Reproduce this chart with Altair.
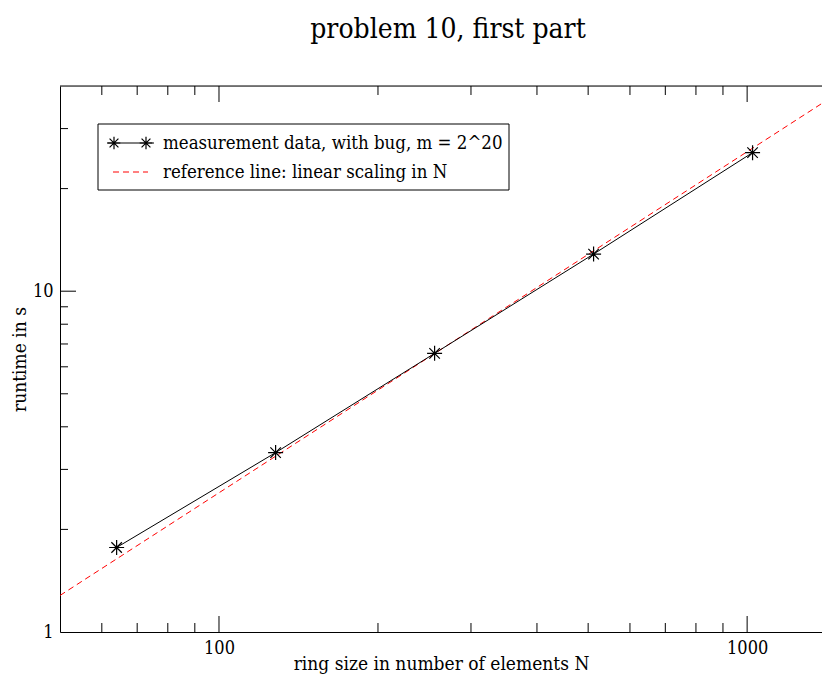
import altair as alt
import pandas as pd

# ---- data ----
ring_n = [64, 128, 256, 512, 1024]
runtime_s = [1.77, 3.36, 6.57, 12.85, 25.5]
ref_n = [50, 1500]
ref_t = [1.28, 38.5]

x_major = [100, 1000]
x_minor = [60, 70, 80, 90, 200, 300, 400, 500, 600, 700, 800, 900]
y_major = [10]
y_minor = [2, 3, 4, 5, 6, 7, 8, 9, 20, 30]

W, H = 762, 546
FONT = "DejaVu Serif Condensed"
XDOM = [50, 1386]
YDOM = [1, 40]

meas = pd.DataFrame({"N": ring_n, "t": runtime_s})
ref = pd.DataFrame({"N": ref_n, "t": ref_t})
one = pd.DataFrame({"a": [0]})

xs = alt.Scale(type="log", domain=XDOM, nice=False)
ys = alt.Scale(type="log", domain=YDOM, nice=False)

STAR = "M0,-1V1M-1,0H1M-0.7,-0.7L0.7,0.7M-0.7,0.7L0.7,-0.7"

xaxis = alt.Axis(values=x_major, format="d", grid=False, ticks=False, domain=True,
                 domainColor="black", labelFont=FONT, labelFontSize=18, labelColor="black",
                 labelPadding=7, title="ring size in number of elements N", titleFont=FONT,
                 titleFontSize=19, titleFontWeight="normal", titleColor="black",
                 titleY=37, titleBaseline="alphabetic")
yaxis = alt.Axis(values=[1, 10], format="d", grid=False, ticks=False, domain=True,
                 domainColor="black", labelFont=FONT, labelFontSize=18, labelColor="black",
                 labelPadding=7, title="runtime in s", titleFont=FONT, titleFontSize=19,
                 titleFontWeight="normal", titleColor="black", titleX=-35,
                 titleBaseline="alphabetic")

refline = alt.Chart(ref).mark_line(color="#ff0000", strokeWidth=1, strokeDash=[6, 4], clip=True).encode(
    x=alt.X("N:Q", scale=xs, axis=xaxis),
    y=alt.Y("t:Q", scale=ys, axis=yaxis),
)
measline = alt.Chart(meas).mark_line(color="black", strokeWidth=1).encode(
    x=alt.X("N:Q", scale=xs), y=alt.Y("t:Q", scale=ys))
measpts = alt.Chart(meas).mark_point(shape=STAR, filled=False, size=225, color="black",
                                     strokeWidth=1.2, opacity=1).encode(
    x=alt.X("N:Q", scale=xs), y=alt.Y("t:Q", scale=ys))

# ticks (inward)
def xticks(vals, length):
    d = pd.DataFrame({"v": vals})
    bottom = alt.Chart(d).mark_rule(color="black", strokeWidth=1).encode(
        x=alt.X("v:Q", scale=xs), y=alt.value(H), y2=alt.value(H - length))
    top = alt.Chart(d).mark_rule(color="black", strokeWidth=1).encode(
        x=alt.X("v:Q", scale=xs), y=alt.value(0), y2=alt.value(length))
    return [bottom, top]

def yticks(vals, length):
    d = pd.DataFrame({"v": vals})
    left = alt.Chart(d).mark_rule(color="black", strokeWidth=1).encode(
        y=alt.Y("v:Q", scale=ys), x=alt.value(0), x2=alt.value(length))
    return [left]

topframe = alt.Chart(one).mark_rule(color="black", strokeWidth=1).encode(
    x=alt.value(0), x2=alt.value(W), y=alt.value(0))

# legend
lg_box = alt.Chart(one).mark_rect(fill="white", stroke="black", strokeWidth=1).encode(
    x=alt.value(38), x2=alt.value(449), y=alt.value(38), y2=alt.value(104))
lg_line1 = alt.Chart(one).mark_rule(color="black", strokeWidth=1).encode(
    x=alt.value(47), x2=alt.value(94), y=alt.value(57))
lg_star = alt.Chart(pd.DataFrame({"px": [54, 86]})).mark_point(
    shape=STAR, filled=False, size=160, color="black", strokeWidth=1.2, opacity=1).encode(
    x=alt.X("px:Q", scale=None), y=alt.value(57))
lg_line2 = alt.Chart(one).mark_rule(color="#ff0000", strokeWidth=1, strokeDash=[6, 4]).encode(
    x=alt.value(53), x2=alt.value(88), y=alt.value(86))
lg_t1 = alt.Chart(one).mark_text(align="left", baseline="middle", font=FONT, fontSize=18.5,
                                 color="black").encode(
    x=alt.value(103), y=alt.value(57), text=alt.value("measurement data, with bug, m = 2^20"))
lg_t2 = alt.Chart(one).mark_text(align="left", baseline="middle", font=FONT, fontSize=18.5,
                                 color="black").encode(
    x=alt.value(103), y=alt.value(86), text=alt.value("reference line: linear scaling in N"))

layers = [refline, measline, measpts, topframe]
layers += xticks(x_major, 16) + xticks(x_minor, 9) + yticks(y_major, 16) + yticks(y_minor, 8)
layers += [lg_box, lg_line1, lg_star, lg_line2, lg_t1, lg_t2]

chart = alt.layer(*layers).properties(
    width=W, height=H,
    title=alt.TitleParams("problem 10, first part", font=FONT, fontSize=28, fontWeight="normal",
                          color="black", anchor="middle", offset=42, dx=7),
    padding={"left": 52, "top": 78, "right": 0, "bottom": 42},
    autosize=alt.AutoSizeParams(type="none"),
).configure_view(stroke=None).configure(background="white")

chart.save("out.html", embed_options={"renderer": "svg", "actions": False})
